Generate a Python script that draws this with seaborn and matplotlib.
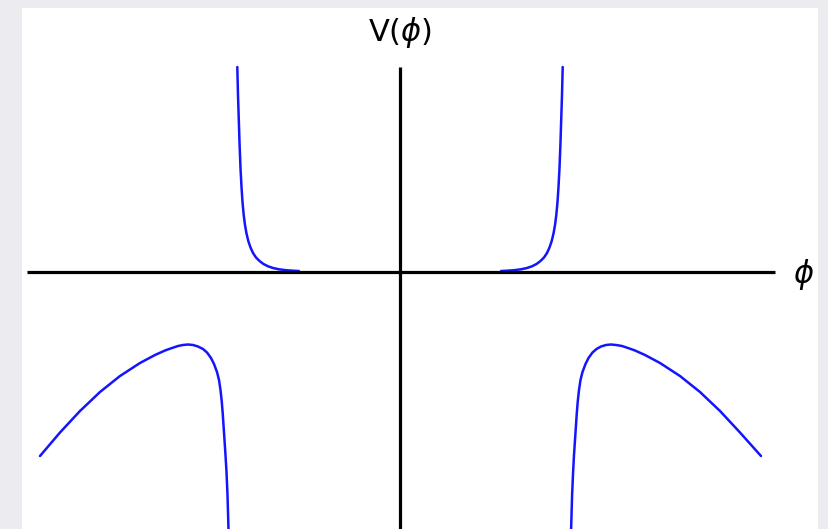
import numpy as np
import pandas as pd
import seaborn as sns
import matplotlib.pyplot as plt
from matplotlib.patches import Rectangle

sns.set_style("white")
plt.rcParams['font.family'] = ['DejaVu Sans']
plt.rcParams['mathtext.fontset'] = 'dejavusans'

# upper branches, phi < 0 side and phi > 0 side
up_left_phi = [-1.627, -1.62, -1.612, -1.604, -1.595, -1.585, -1.575, -1.563, -1.55, -1.535, -1.517,
               -1.495, -1.47, -1.44, -1.405, -1.365, -1.32, -1.27, -1.21, -1.14, -1.07, -1.01]
up_left_v = [2.05, 1.77, 1.52, 1.27, 1.04, 0.85, 0.70, 0.57, 0.47, 0.385, 0.31,
             0.245, 0.19, 0.145, 0.11, 0.08, 0.057, 0.04, 0.027, 0.018, 0.013, 0.01]
up_right_phi = [1.627, 1.62, 1.612, 1.604, 1.595, 1.585, 1.575, 1.563, 1.55, 1.535, 1.517,
                1.495, 1.47, 1.44, 1.405, 1.365, 1.32, 1.27, 1.21, 1.14, 1.07, 1.01]
up_right_v = [2.05, 1.77, 1.52, 1.27, 1.04, 0.85, 0.70, 0.57, 0.47, 0.385, 0.31,
              0.245, 0.19, 0.145, 0.11, 0.08, 0.057, 0.04, 0.027, 0.018, 0.013, 0.01]

# lower branches
low_left_phi = [-3.60, -3.40, -3.20, -3.00, -2.80, -2.60, -2.45, -2.35, -2.28, -2.22, -2.17,
                -2.12, -2.07, -2.02, -1.97, -1.93, -1.89, -1.86, -1.83, -1.81, -1.795,
                -1.783, -1.773, -1.765, -1.755, -1.745, -1.735, -1.725, -1.712]
low_left_v = [-1.84, -1.605, -1.39, -1.20, -1.04, -0.91, -0.83, -0.785, -0.76, -0.74, -0.73,
              -0.725, -0.73, -0.745, -0.77, -0.805, -0.86, -0.92, -1.00, -1.08, -1.18,
              -1.29, -1.41, -1.53, -1.68, -1.83, -2.00, -2.23, -2.68]
low_right_phi = [3.61, 3.40, 3.20, 3.00, 2.80, 2.60, 2.45, 2.35, 2.28, 2.22, 2.16,
                 2.11, 2.06, 2.01, 1.965, 1.925, 1.885, 1.855, 1.825, 1.805, 1.79,
                 1.778, 1.768, 1.76, 1.75, 1.74, 1.731, 1.721, 1.708]
low_right_v = [-1.84, -1.605, -1.39, -1.20, -1.04, -0.91, -0.83, -0.785, -0.76, -0.74, -0.73,
               -0.725, -0.73, -0.745, -0.77, -0.805, -0.86, -0.92, -1.00, -1.08, -1.18,
               -1.29, -1.41, -1.53, -1.68, -1.83, -2.00, -2.23, -2.68]

branches = [(up_left_phi, up_left_v), (up_right_phi, up_right_v),
            (low_left_phi, low_left_v), (low_right_phi, low_right_v)]

fig = plt.figure(figsize=(8.29, 5.29), dpi=100)
fig.patch.set_facecolor("#ececf0")

# white panel behind the plot
bg = fig.add_axes([22 / 829, 0, 796 / 829, 521 / 529], zorder=0)
bg.axis("off")
bg.add_patch(Rectangle((0, 0), 1, 1, transform=bg.transAxes, facecolor="white", edgecolor="none"))

ax = fig.add_axes([0, 0, 1, 1], zorder=1)
ax.set_facecolor("none")

for phi, v in branches:
    df = pd.DataFrame({"phi": phi, "V": v})
    sns.lineplot(data=df, x="phi", y="V", sort=False, estimator=None,
                 color="#1414ff", linewidth=1.8, ax=ax)

# axes lines
ax.hlines(0, -3.73, 3.75, color="black", linewidth=2.3)
ax.vlines(0, -3.0, 2.05, color="black", linewidth=2.3)

ax.text(0, 2.40, r"V($\phi$)", ha="center", va="center", fontsize=22, color="black")
ax.text(4.04, -0.03, r"$\phi$", ha="center", va="center", fontsize=22, color="black")

ax.set_xlim(-4.0, 4.29)
ax.set_ylim(-2.57, 2.72)
ax.axis("off")

plt.savefig("out.png", dpi=100)
